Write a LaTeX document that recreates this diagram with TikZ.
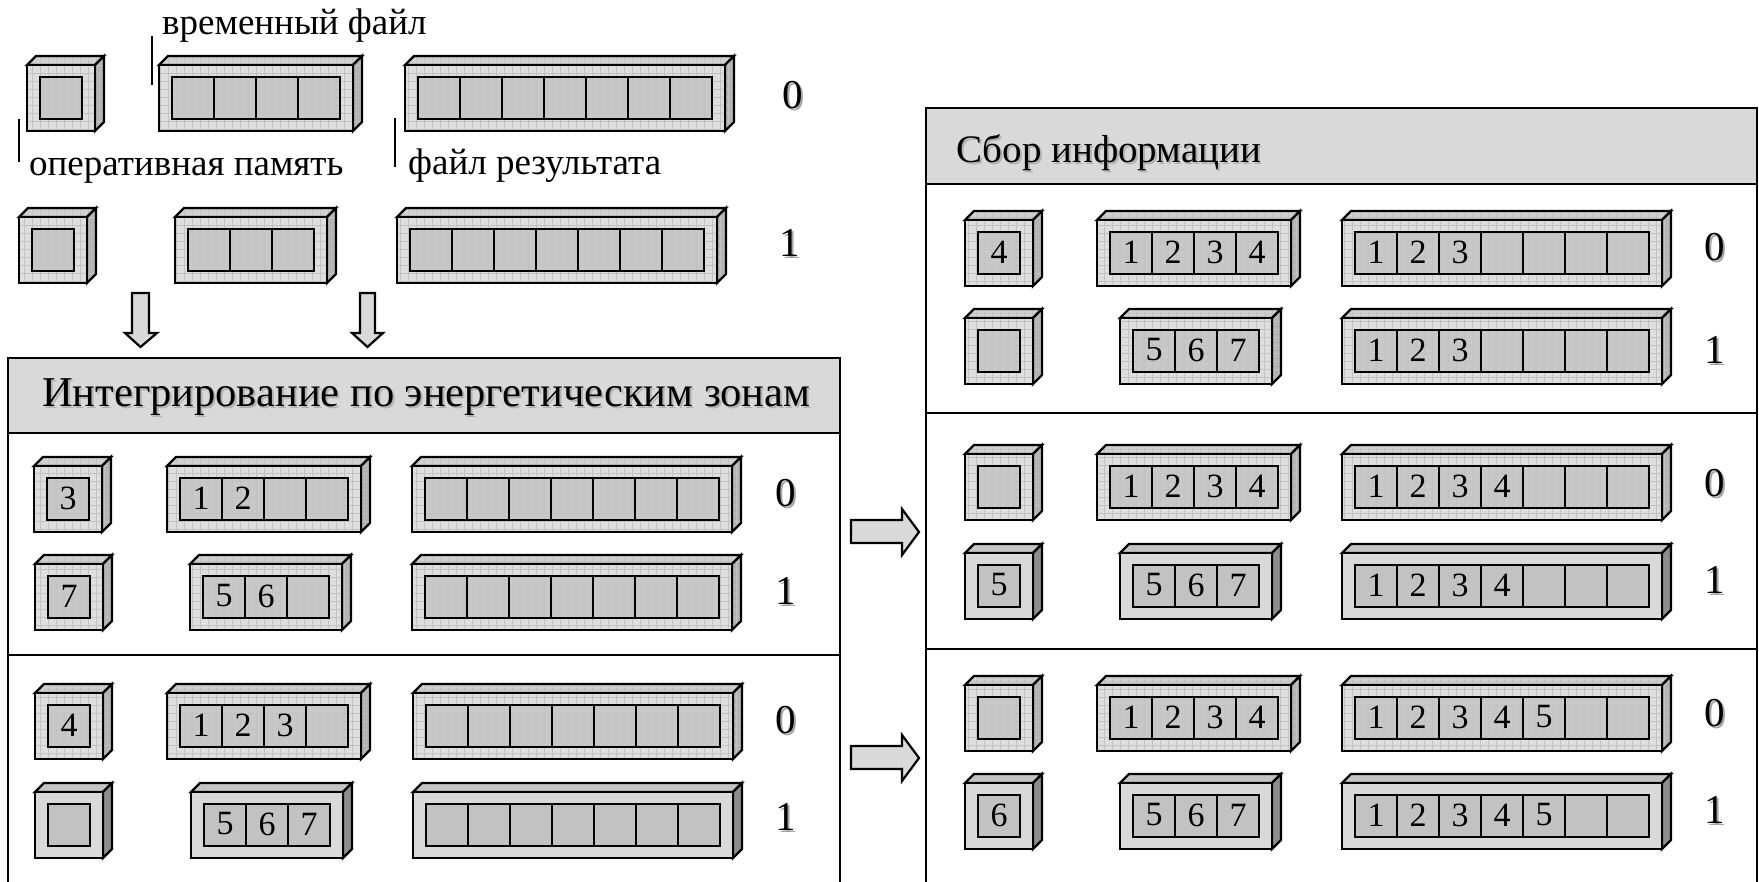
\documentclass[tikz,border=0pt]{standalone}
\usepackage{fontspec}
\setmainfont{Liberation Serif}
\usetikzlibrary{patterns}
\pgfdeclarepatternformonly{mygrid}{\pgfqpoint{-1pt}{-1pt}}{\pgfqpoint{8pt}{8pt}}{\pgfqpoint{8pt}{8pt}}{%
  \pgfsetlinewidth{0.7pt}%
  \pgfpathmoveto{\pgfqpoint{0pt}{0pt}}\pgfpathlineto{\pgfqpoint{8pt}{0pt}}%
  \pgfpathmoveto{\pgfqpoint{0pt}{0pt}}\pgfpathlineto{\pgfqpoint{0pt}{8pt}}%
  \pgfusepath{stroke}}
\definecolor{hdr}{HTML}{D9D9D9}
\definecolor{gridc}{HTML}{C2C2C2}
\definecolor{pfront}{HTML}{DEDEDE}
\definecolor{ptop}{HTML}{D0D0D0}
\definecolor{pright}{HTML}{B4B4B4}
\definecolor{pcell}{HTML}{C8C8C8}
\definecolor{lfront}{HTML}{D9D9D9}
\definecolor{ltop}{HTML}{C4C4C4}
\definecolor{lright}{HTML}{8E8E8E}
\definecolor{lcell}{HTML}{C2C2C2}
\tikzset{
  edge/.style={draw=black, line width=2.4pt},
  pat front/.style={edge, preaction={fill=pfront}, pattern=mygrid, pattern color=gridc},
  pat top/.style={edge, preaction={fill=ptop}, pattern=mygrid, pattern color=gridc},
  pat right/.style={edge, preaction={fill=pright}, pattern=mygrid, pattern color=gridc},
  pat cell/.style={edge, preaction={fill=pcell}, pattern=mygrid, pattern color=gridc},
  pln front/.style={edge, fill=lfront},
  pln top/.style={edge, fill=ltop},
  pln right/.style={edge, fill=lright},
  pln cell/.style={edge, fill=lcell},
  digit/.style={inner sep=0pt, font=\fontsize{34}{36}\selectfont},
  rowlab/.style={inner sep=0pt, font=\fontsize{41}{44}\selectfont},
  rowshadow/.style={rowlab, text=black!35},
  toplab/.style={inner sep=0pt, anchor=base west, font=\fontsize{37}{40}\selectfont},
  hdrlab/.style={inner sep=0pt, anchor=base west},
  hdrshadow/.style={hdrlab, text=black!30},
  panel/.style={draw=black, line width=2.6pt},
  blockarrow/.style={draw=black, line width=2.2pt, fill=hdr, line join=miter},
  leader/.style={draw=black, line width=2pt},
}
% #1 name, #2 x, #3 y (front top-left), #4 cells, #5 labels, #6 pat/pln
\newcommand{\membox}[6]{%
  \pgfmathsetmacro{\bw}{#4*42+26}%
  \coordinate (#1) at (#2,#3);
  \path[#6 top] (#2,#3) -- ++(9,-9) -- ++(\bw,0) -- ++(-9,9) -- cycle;
  \path[#6 right] (#2+\bw,#3) -- ++(9,-9) -- ++(0,66) -- ++(-9,9) -- cycle;
  \path[#6 front] (#2,#3) rectangle ++(\bw,66);
  \foreach \i in {1,...,#4} { \path[#6 cell] ({#2+13+(\i-1)*42},{#3+12}) rectangle ++(42,42); }
  \if\relax\detokenize{#5}\relax\else
    \foreach \t [count=\i] in {#5} { \node[digit] (#1-\i) at ({#2+13+(\i-0.5)*42},{#3+32}) {\t}; }
  \fi
}
\newcommand{\rowlabel}[4]{% name, x, y, text
  \node[rowshadow] (#1s) at (#2+2,#3+2) {#4};
  \node[rowlab] (#1) at (#2,#3) {#4};
}
\begin{document}
\begin{tikzpicture}[x=1pt, y=-1pt]
\useasboundingbox (0,0) rectangle (1759,881);

% ---------- top (legend) rows ----------
\membox{tr0m}{27}{65}{1}{}{pat}
\membox{tr0t}{159}{65}{4}{}{pat}
\membox{tr0r}{405}{65}{7}{}{pat}
\rowlabel{tl0}{793}{95}{0}
\membox{tr1m}{19}{217}{1}{}{pat}
\membox{tr1t}{175}{217}{3}{}{pat}
\membox{tr1r}{397}{217}{7}{}{pat}
\rowlabel{tl1}{790}{243}{1}

\node[toplab] (ltemp) at (162,34) {временный файл};
\node[toplab] (lram) at (29,175) {оперативная память};
\node[toplab] (lres) at (408,174) {файл результата};
\draw[leader] (152,36) -- (152,85);
\draw[leader] (19,119) -- (19,162);
\draw[leader] (395,118) -- (395,167);

% down arrows
\path[blockarrow] (132,293) -- (149,293) -- (149,333) -- (157,333) -- (140.5,347) -- (125,333) -- (132,333) -- cycle;
\path[blockarrow] (360,293) -- (375,293) -- (375,333) -- (383,333) -- (367.5,347) -- (352,333) -- (360,333) -- cycle;

% ---------- left panel ----------
\fill[hdr] (8,358) rectangle (840,433);
\draw[panel] (8,885) -- (8,358) -- (840,358) -- (840,885);
\draw[panel] (8,433) -- (840,433);
\draw[panel] (8,655) -- (840,655);
\node[hdrshadow, font=\fontsize{42.5}{45}\selectfont] (h1s) at (44,408) {Интегрирование по энергетическим зонам};
\node[hdrlab, font=\fontsize{42.5}{45}\selectfont] (h1) at (42,406) {Интегрирование по энергетическим зонам};

\membox{a0m}{34}{466}{1}{3}{pat}
\membox{a0t}{167}{466}{4}{1,2}{pat}
\membox{a0r}{412}{466}{7}{}{pat}
\rowlabel{al0}{786}{493}{0}
\membox{a1m}{35}{564}{1}{7}{pat}
\membox{a1t}{190}{564}{3}{5,6}{pat}
\membox{a1r}{412}{564}{7}{}{pat}
\rowlabel{al1}{786}{591}{1}

\membox{b0m}{35}{693}{1}{4}{pat}
\membox{b0t}{167}{693}{4}{1,2,3}{pat}
\membox{b0r}{413}{693}{7}{}{pat}
\rowlabel{bl0}{786}{720}{0}
\membox{b1m}{35}{792}{1}{}{pln}
\membox{b1t}{191}{792}{3}{5,6,7}{pln}
\membox{b1r}{413}{792}{7}{}{pln}
\rowlabel{bl1}{786}{817}{1}

% right arrows
\path[blockarrow] (851,520) -- (902,520) -- (902,509) -- (919,532) -- (902,555) -- (902,543) -- (851,543) -- cycle;
\path[blockarrow] (851,746) -- (902,746) -- (902,735) -- (919,758) -- (902,781) -- (902,769) -- (851,769) -- cycle;

% ---------- right panel ----------
\fill[hdr] (926,108) rectangle (1757,184);
\draw[panel] (926,885) -- (926,108) -- (1757,108) -- (1757,885);
\draw[panel] (926,184) -- (1757,184);
\draw[panel] (926,413) -- (1757,413);
\draw[panel] (926,649) -- (1757,649);
\node[hdrshadow, font=\fontsize{39}{42}\selectfont] (h2s) at (958,164) {Сбор информации};
\node[hdrlab, font=\fontsize{39}{42}\selectfont] (h2) at (956,162) {Сбор информации};

\membox{c0m}{965}{220}{1}{4}{pat}
\membox{c0t}{1097}{220}{4}{1,2,3,4}{pat}
\membox{c0r}{1342}{220}{7}{1,2,3}{pat}
\rowlabel{cl0}{1715}{247}{0}
\membox{c1m}{965}{318}{1}{}{pat}
\membox{c1t}{1120}{318}{3}{5,6,7}{pat}
\membox{c1r}{1342}{318}{7}{1,2,3}{pat}
\rowlabel{cl1}{1715}{350}{1}

\membox{d0m}{965}{454}{1}{}{pat}
\membox{d0t}{1097}{454}{4}{1,2,3,4}{pat}
\membox{d0r}{1342}{454}{7}{1,2,3,4}{pat}
\rowlabel{dl0}{1715}{483}{0}
\membox{d1m}{965}{553}{1}{5}{pln}
\membox{d1t}{1120}{553}{3}{5,6,7}{pln}
\membox{d1r}{1342}{553}{7}{1,2,3,4}{pln}
\rowlabel{dl1}{1715}{580}{1}

\membox{e0m}{965}{685}{1}{}{pat}
\membox{e0t}{1097}{685}{4}{1,2,3,4}{pat}
\membox{e0r}{1342}{685}{7}{1,2,3,4,5}{pat}
\rowlabel{el0}{1715}{713}{0}
\membox{e1m}{965}{783}{1}{6}{pln}
\membox{e1t}{1120}{783}{3}{5,6,7}{pln}
\membox{e1r}{1342}{783}{7}{1,2,3,4,5}{pln}
\rowlabel{el1}{1715}{810}{1}
\end{tikzpicture}
\end{document}
